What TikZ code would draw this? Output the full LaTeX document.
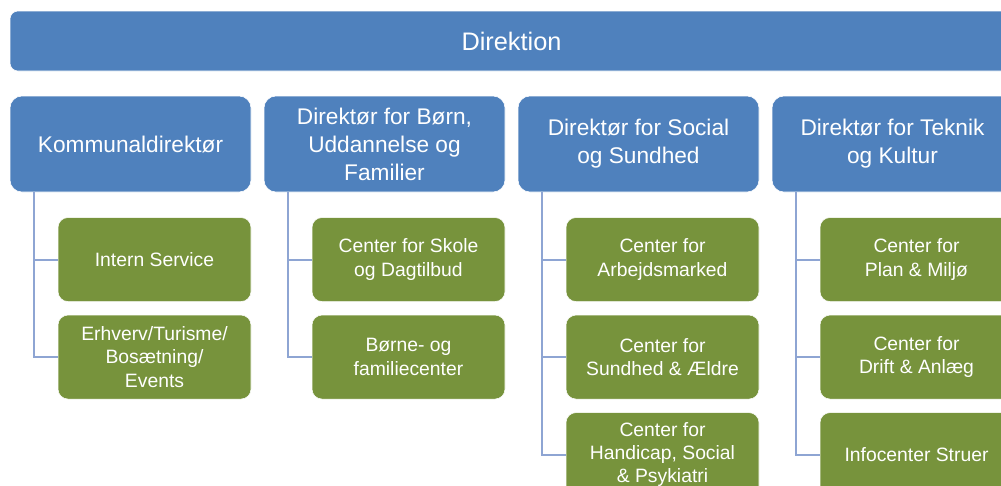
\documentclass[tikz,border=0pt]{standalone}
\usepackage{fontspec}
\setmainfont{Liberation Sans}
\usepackage{xcolor}
\usetikzlibrary{positioning}
\definecolor{dirblue}{HTML}{4F81BD}
\definecolor{unitgreen}{HTML}{77933C}
\definecolor{linkblue}{HTML}{8EA5D3}

\begin{document}
\begin{tikzpicture}[
    x=0.75pt, y=-0.75pt,
    top/.style={rectangle, draw=white, fill=dirblue, text=white, rounded corners=6pt, minimum width=752.25pt, minimum height=45pt, font=\fontsize{19}{23}\selectfont},
    director/.style={rectangle, draw=white, fill=dirblue, text=white, align=center, rounded corners=9pt, minimum width=180.75pt, minimum height=72pt, inner sep=2pt, font=\fontsize{17}{21}\selectfont},
    unit/.style={rectangle, draw=white, fill=unitgreen, text=white, align=center, rounded corners=7.5pt, minimum width=144.75pt, minimum height=63pt, inner sep=2pt, font=\fontsize{14.5}{17.5}\selectfont},
    link/.style={draw=linkblue, line width=1.5pt}
]
\useasboundingbox (0,0) rectangle (1001,486);
\clip (0,0) rectangle (1001,486);

% Top
\node[top] (direktion) at (511.5,41) {Direktion};

% Directors
\node[director] (kommdir) at (130.5,144) {Kommunaldirektør};
\node[director] (bornedir) at (384.5,144) {Direktør for Børn,\\Uddannelse og\\Familier};
\node[director] (socialdir) at (638.5,144) {Direktør for Social\\og Sundhed};
\node[director] (teknikdir) at (892.5,144) {Direktør for Teknik\\og Kultur};

% Kommunaldirektør
\node[unit, below left=18.75pt and 0pt of kommdir.south east] (intern) {Intern Service};
\node[unit, below=9.75pt of intern] (erhverv) {Erhverv/Turisme/\\Bosætning/\\Events};

% Børn, Uddannelse og Familier
\node[unit, below left=18.75pt and 0pt of bornedir.south east] (skole) {Center for Skole\\og Dagtilbud};
\node[unit, below=9.75pt of skole] (familie) {Børne- og\\familiecenter};

% Social og Sundhed
\node[unit, below left=18.75pt and 0pt of socialdir.south east] (arbejde) {Center for\\Arbejdsmarked};
\node[unit, below=9.75pt of arbejde] (aeldre) {Center for\\Sundhed \& Ældre};
\node[unit, below=9.75pt of aeldre] (handicap) {Center for\\Handicap, Social\\\& Psykiatri};

% Teknik og Kultur
\node[unit, below left=18.75pt and 0pt of teknikdir.south east] (plan) {Center for\\Plan \& Miljø};
\node[unit, below=9.75pt of plan] (drift) {Center for\\Drift \& Anlæg};
\node[unit, below=9.75pt of drift] (info) {Infocenter Struer};

% Connections
\draw[link] ([xshift=18pt]kommdir.south west) |- (intern.west);
\draw[link] ([xshift=18pt]kommdir.south west) |- (erhverv.west);
\draw[link] ([xshift=18pt]bornedir.south west) |- (skole.west);
\draw[link] ([xshift=18pt]bornedir.south west) |- (familie.west);
\draw[link] ([xshift=18pt]socialdir.south west) |- (arbejde.west);
\draw[link] ([xshift=18pt]socialdir.south west) |- (aeldre.west);
\draw[link] ([xshift=18pt]socialdir.south west) |- (handicap.west);
\draw[link] ([xshift=18pt]teknikdir.south west) |- (plan.west);
\draw[link] ([xshift=18pt]teknikdir.south west) |- (drift.west);
\draw[link] ([xshift=18pt]teknikdir.south west) |- (info.west);

\end{tikzpicture}
\end{document}
